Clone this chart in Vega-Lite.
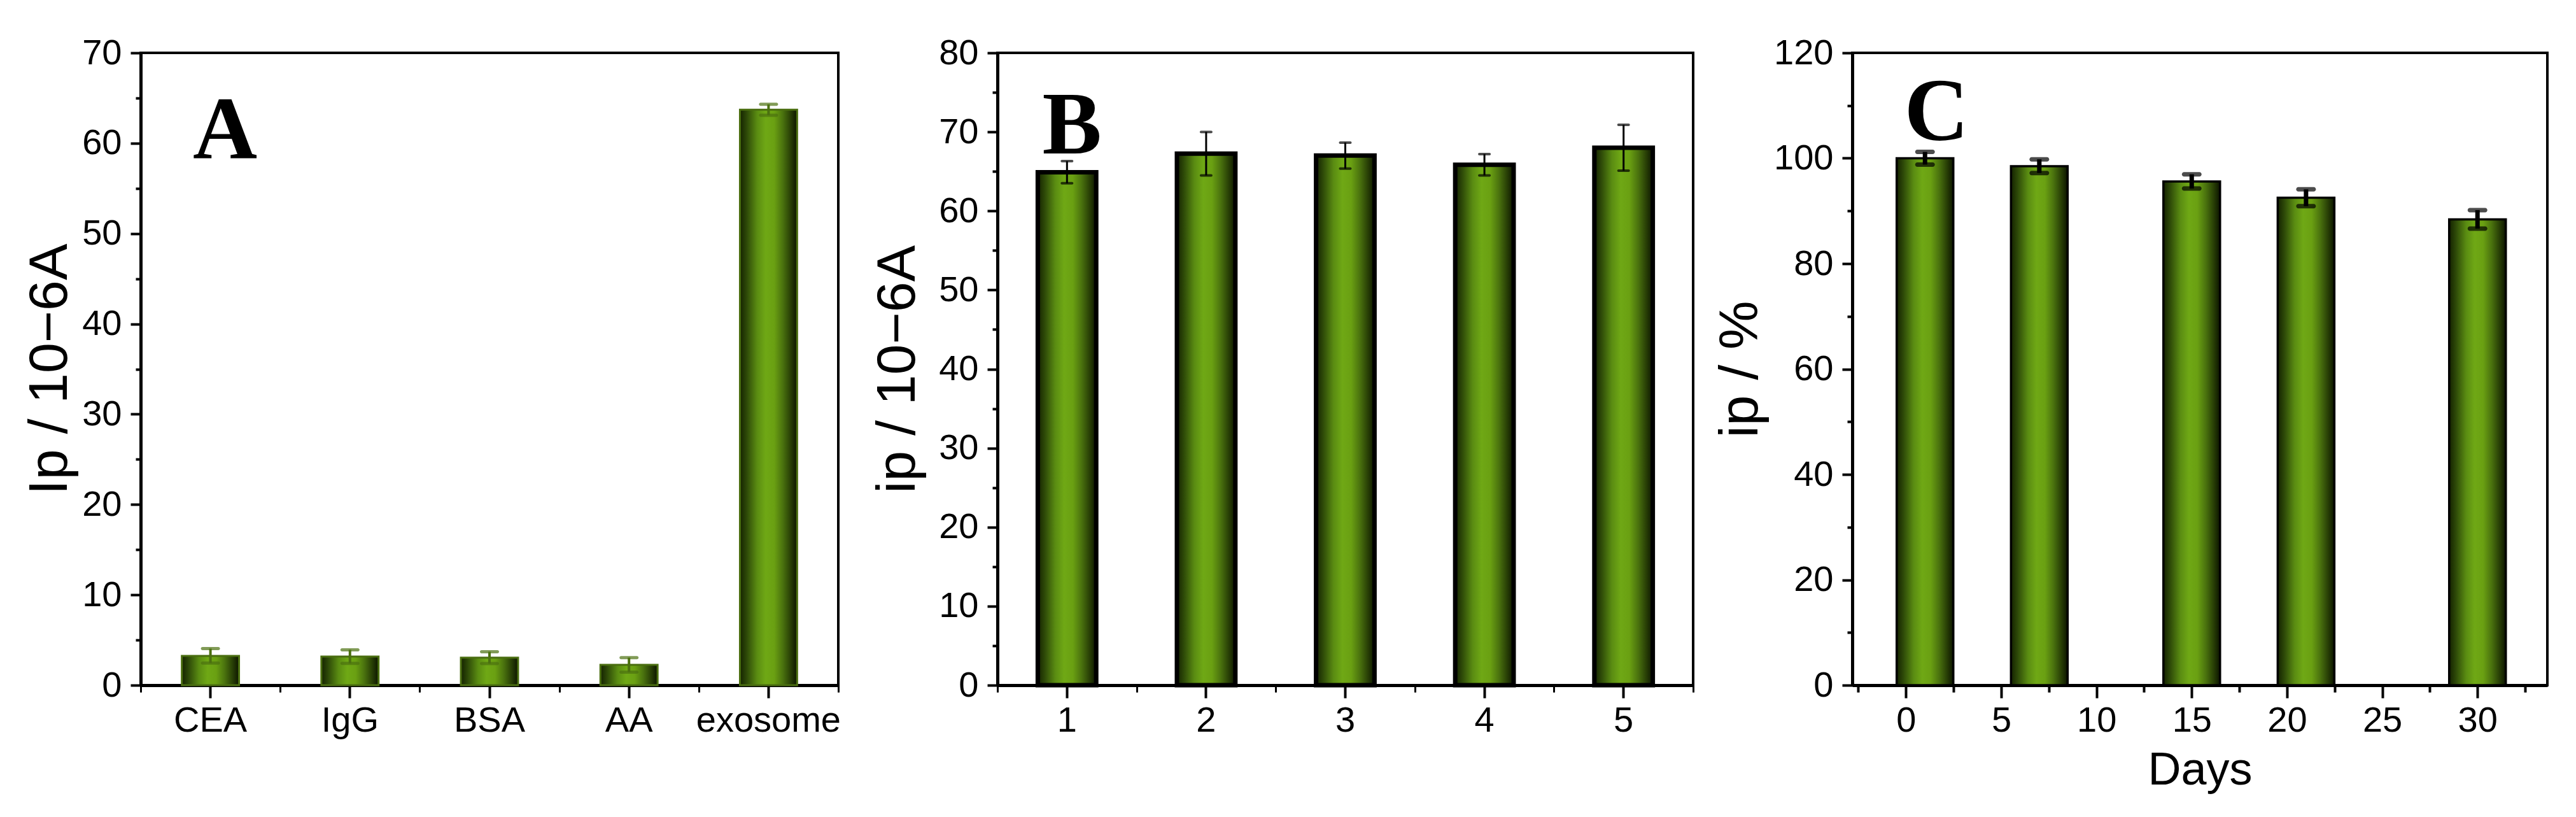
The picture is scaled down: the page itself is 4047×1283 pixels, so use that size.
{
  "$schema": "https://vega.github.io/schema/vega-lite/v6.json",
  "background": "white",
  "padding": {"left": 33, "top": 53, "right": 0, "bottom": 0},
  "spacing": 250,
  "bounds": "flush",
  "config": {
    "view": {"stroke": "black", "strokeWidth": 4},
    "axis": {
      "labelFont": "Liberation Sans", "titleFont": "Liberation Sans",
      "labelFontSize": 56, "titleFontSize": 86, "titleFontWeight": "normal",
      "labelColor": "black", "titleColor": "black", "labelLimit": 0,
      "domainColor": "black", "tickColor": "black",
      "domainWidth": 5, "tickWidth": 4, "grid": false
    }
  },
  "hconcat": [
    {
      "width": 1096, "height": 993,
      "data": {"values": [
        {"sample": "CEA", "ip": 3.25, "err": 0.8},
        {"sample": "IgG", "ip": 3.17, "err": 0.75},
        {"sample": "BSA", "ip": 3.05, "err": 0.65},
        {"sample": "AA", "ip": 2.25, "err": 0.8},
        {"sample": "exosome", "ip": 63.7, "err": 0.6}
      ]},
      "layer": [
        {
          "mark": {"type": "bar", "width": {"band": 0.41}, "stroke": "#4a6e10", "strokeWidth": 3,
            "fill": {"gradient": "linear", "x1": 0, "y1": 0, "x2": 1, "y2": 0, "stops": [
              {"offset": 0, "color": "#142200"}, {"offset": 0.12, "color": "#2e4a08"},
              {"offset": 0.3, "color": "#5a8c12"}, {"offset": 0.45, "color": "#6fa815"},
              {"offset": 0.6, "color": "#6aa012"}, {"offset": 0.75, "color": "#4a720e"},
              {"offset": 0.9, "color": "#253a05"}, {"offset": 1, "color": "#0c1400"}]}},
          "encoding": {
            "x": {"field": "sample", "type": "nominal", "sort": null,
              "scale": {"paddingInner": 0, "paddingOuter": 0},
              "axis": {"title": null, "labelAngle": 0, "tickSize": 20, "labelPadding": 8}},
            "y": {"field": "ip", "type": "quantitative", "scale": {"domain": [0, 70], "nice": false},
              "title": "Ip / 10−6A",
              "axis": {
                "values": [0,5,10,15,20,25,30,35,40,45,50,55,60,65,70],
                "tickSize": {"condition": {"test": "datum.value % 10 === 0", "value": 16}, "value": 8},
                "labelExpr": "datum.value % 10 === 0 ? datum.label : ''",
                "labelPadding": 14, "titlePadding": 6}}
          }
        },
        {
          "mark": {"type": "errorbar",
            "ticks": {"size": 30, "thickness": 5, "color": "#4b7010", "cornerRadius": 2.5},
            "rule": {"strokeWidth": 4, "color": "#4b7010"}},
          "encoding": {
            "x": {"field": "sample", "type": "nominal", "sort": null,
              "axis": {"title": null, "orient": "bottom", "labels": false, "domain": false, "tickBand": "extent", "tickSize": 11, "tickWidth": 3}},
            "y": {"field": "ip", "type": "quantitative", "title": "Ip / 10−6A"},
            "yError": {"field": "err"}
          }
        },
        {
          "data": {"values": [{"t": "A", "sample": "CEA", "ip": 58.3}]},
          "mark": {"type": "text", "font": "Liberation Serif", "fontWeight": "bold", "fontSize": 140, "baseline": "alphabetic", "align": "center", "dx": 23},
          "encoding": {
            "x": {"field": "sample", "type": "nominal", "sort": null, "axis": null},
            "y": {"field": "ip", "type": "quantitative", "title": "Ip / 10−6A"},
            "text": {"field": "t"}
          }
        }
      ],
      "resolve": {"axis": {"x": "independent"}}
    },
    {
      "width": 1093, "height": 993,
      "data": {"values": [
        {"n": 1, "ip": 64.9, "err": 1.4},
        {"n": 2, "ip": 67.25, "err": 2.75},
        {"n": 3, "ip": 67.0, "err": 1.65},
        {"n": 4, "ip": 65.85, "err": 1.35},
        {"n": 5, "ip": 68.0, "err": 2.9}
      ]},
      "layer": [
        {
          "mark": {"type": "bar", "width": {"band": 0.42}, "stroke": "black", "strokeWidth": 7,
            "fill": {"gradient": "linear", "x1": 0, "y1": 0, "x2": 1, "y2": 0, "stops": [
              {"offset": 0, "color": "#142200"}, {"offset": 0.12, "color": "#2e4a08"},
              {"offset": 0.3, "color": "#5a8c12"}, {"offset": 0.45, "color": "#6fa815"},
              {"offset": 0.6, "color": "#6aa012"}, {"offset": 0.75, "color": "#4a720e"},
              {"offset": 0.9, "color": "#253a05"}, {"offset": 1, "color": "#0c1400"}]}},
          "encoding": {
            "x": {"field": "n", "type": "ordinal",
              "scale": {"paddingInner": 0, "paddingOuter": 0},
              "axis": {"title": null, "labelAngle": 0, "tickSize": 20, "labelPadding": 8}},
            "y": {"field": "ip", "type": "quantitative", "scale": {"domain": [0, 80], "nice": false},
              "title": "ip / 10−6A",
              "axis": {
                "values": [0,5,10,15,20,25,30,35,40,45,50,55,60,65,70,75,80],
                "tickSize": {"condition": {"test": "datum.value % 10 === 0", "value": 16}, "value": 8},
                "labelExpr": "datum.value % 10 === 0 ? datum.label : ''",
                "labelPadding": 14, "titlePadding": 20}}
          }
        },
        {
          "mark": {"type": "errorbar",
            "ticks": {"size": 20, "thickness": 4, "color": "black", "cornerRadius": 2},
            "rule": {"strokeWidth": 3, "color": "black"}},
          "encoding": {
            "x": {"field": "n", "type": "ordinal",
              "axis": {"title": null, "orient": "bottom", "labels": false, "domain": false, "tickBand": "extent", "tickSize": 11, "tickWidth": 3}},
            "y": {"field": "ip", "type": "quantitative", "title": "ip / 10−6A"},
            "yError": {"field": "err"}
          }
        },
        {
          "data": {"values": [{"t": "B", "n": 1, "ip": 67.3}]},
          "mark": {"type": "text", "font": "Liberation Serif", "fontWeight": "bold", "fontSize": 140, "baseline": "alphabetic", "align": "center", "dx": 8},
          "encoding": {
            "x": {"field": "n", "type": "ordinal", "axis": null},
            "y": {"field": "ip", "type": "quantitative", "title": "ip / 10−6A"},
            "text": {"field": "t"}
          }
        }
      ],
      "resolve": {"axis": {"x": "independent"}}
    },
    {
      "width": 1092, "height": 993,
      "data": {"values": [
        {"day": 1, "ip": 100.0, "err": 1.2},
        {"day": 7, "ip": 98.5, "err": 1.3},
        {"day": 15, "ip": 95.6, "err": 1.35},
        {"day": 21, "ip": 92.5, "err": 1.6},
        {"day": 30, "ip": 88.4, "err": 1.75}
      ]},
      "layer": [
        {
          "mark": {"type": "bar", "size": 89, "stroke": "black", "strokeWidth": 3.5,
            "fill": {"gradient": "linear", "x1": 0, "y1": 0, "x2": 1, "y2": 0, "stops": [
              {"offset": 0, "color": "#142200"}, {"offset": 0.12, "color": "#2e4a08"},
              {"offset": 0.3, "color": "#5a8c12"}, {"offset": 0.45, "color": "#6fa815"},
              {"offset": 0.6, "color": "#6aa012"}, {"offset": 0.75, "color": "#4a720e"},
              {"offset": 0.9, "color": "#253a05"}, {"offset": 1, "color": "#0c1400"}]}},
          "encoding": {
            "x": {"field": "day", "type": "quantitative",
              "scale": {"domain": [-2.65, 33.5], "nice": false, "zero": false},
              "title": "Days",
              "axis": {"titleFontSize": 72, "titlePadding": 15,
                "values": [-2.5,0,2.5,5,7.5,10,12.5,15,17.5,20,22.5,25,27.5,30,32.5],
                "tickSize": {"condition": {"test": "datum.value % 5 === 0", "value": 20}, "value": 11},
                "labelExpr": "datum.value % 5 === 0 ? datum.label : ''",
                "labelPadding": 8, "labelFlush": false, "labelOverlap": false}},
            "y": {"field": "ip", "type": "quantitative", "scale": {"domain": [0, 120], "nice": false},
              "title": "ip / %",
              "axis": {
                "values": [0,10,20,30,40,50,60,70,80,90,100,110,120],
                "tickSize": {"condition": {"test": "datum.value % 20 === 0", "value": 16}, "value": 8},
                "labelExpr": "datum.value % 20 === 0 ? datum.label : ''",
                "labelPadding": 14, "titlePadding": 8}}
          }
        },
        {
          "mark": {"type": "errorbar",
            "ticks": {"size": 31, "thickness": 7, "color": "black", "cornerRadius": 3.5},
            "rule": {"strokeWidth": 7, "color": "black"}},
          "encoding": {
            "x": {"field": "day", "type": "quantitative", "title": "Days"},
            "y": {"field": "ip", "type": "quantitative", "title": "ip / %"},
            "yError": {"field": "err"}
          }
        },
        {
          "data": {"values": [{"t": "C", "day": 1.6, "ip": 103.5}]},
          "mark": {"type": "text", "font": "Liberation Serif", "fontWeight": "bold", "fontSize": 140, "baseline": "alphabetic", "align": "center"},
          "encoding": {
            "x": {"field": "day", "type": "quantitative", "title": "Days"},
            "y": {"field": "ip", "type": "quantitative", "title": "ip / %"},
            "text": {"field": "t"}
          }
        }
      ]
    }
  ]
}
